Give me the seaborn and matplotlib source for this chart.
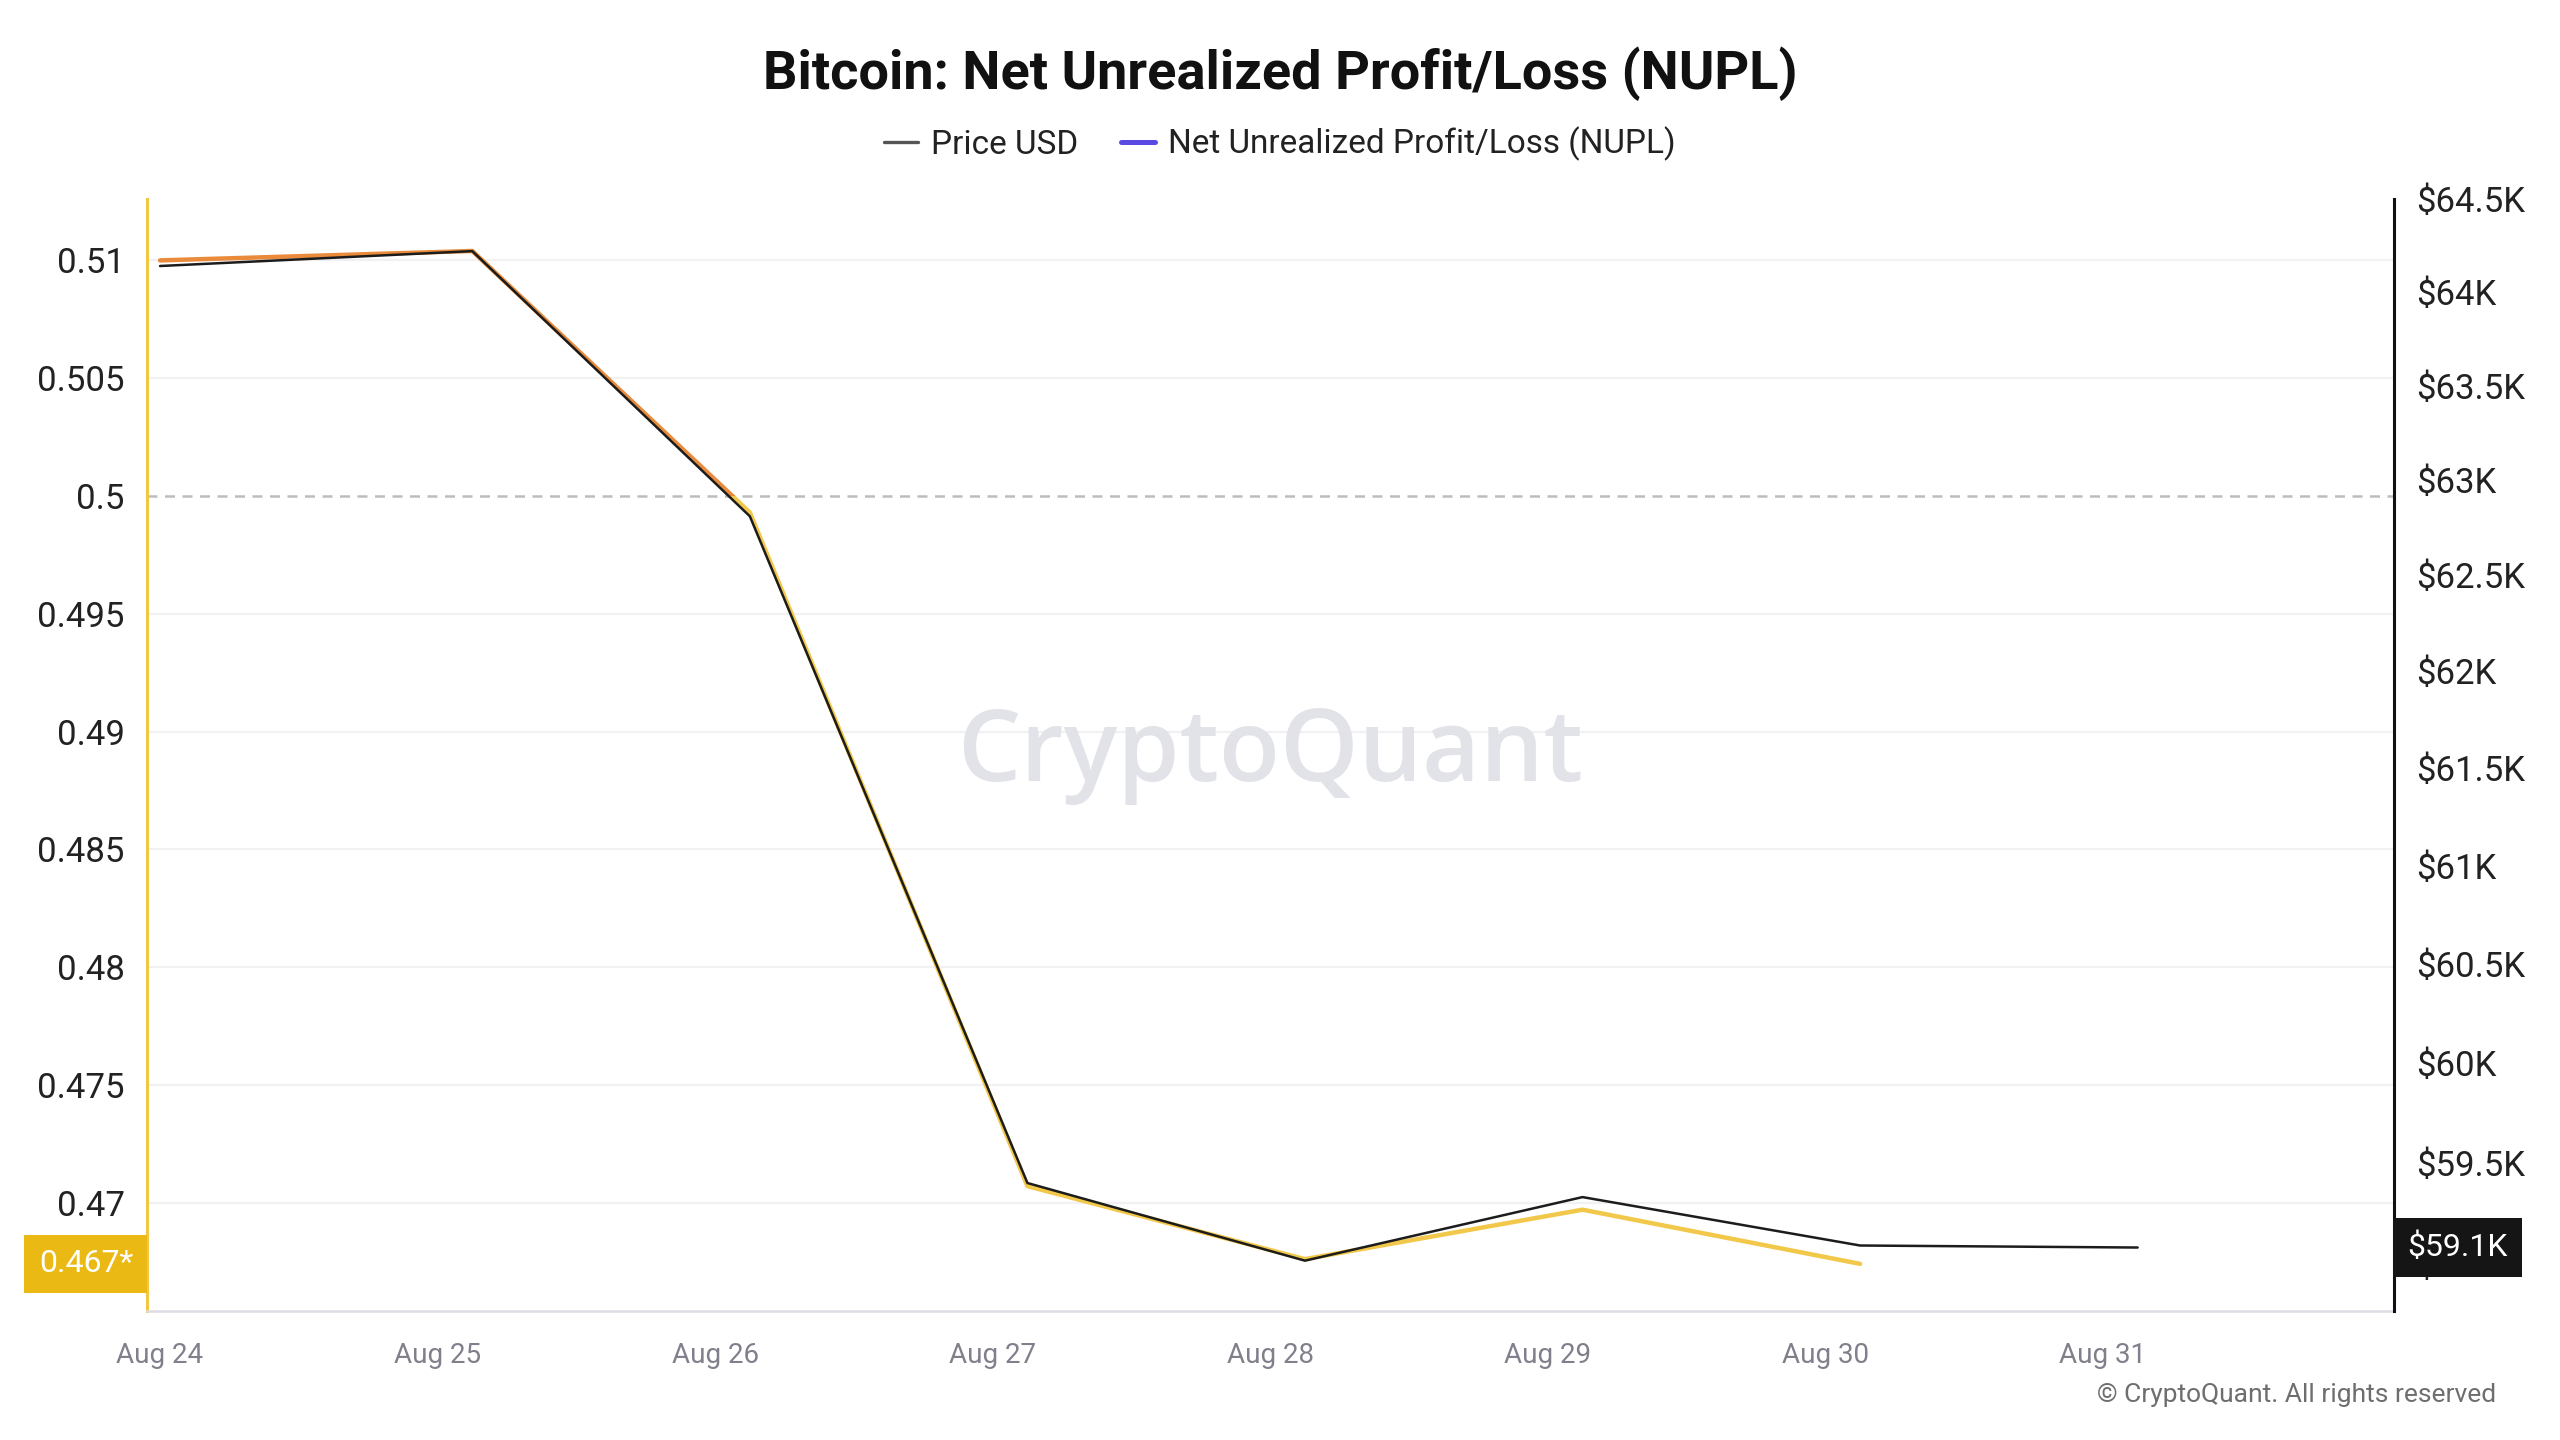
import matplotlib
matplotlib.use("Agg")
import matplotlib.pyplot as plt
import matplotlib.transforms as mtransforms
from matplotlib.patches import Rectangle
from matplotlib.lines import Line2D
from matplotlib.ticker import FixedLocator, FuncFormatter
import seaborn as sns
import pandas as pd

# values
dates = pd.to_datetime(["2024-08-24 00:00", "2024-08-25 03:00", "2024-08-26 03:00",
                        "2024-08-27 03:00", "2024-08-28 03:00", "2024-08-29 03:00",
                        "2024-08-30 03:00", "2024-08-31 03:00"])
price_usd = [64140, 64220, 62810, 59400, 59015, 59330, 59090, 59080]
nupl = [0.5100, 0.5104, 0.4993, 0.4707, 0.4676, 0.4697, 0.4674]
nupl_dates = dates[:len(nupl)]

day_ticks = pd.date_range("2024-08-24", "2024-08-31", freq="D")
nupl_ticks = [0.47, 0.475, 0.48, 0.485, 0.49, 0.495, 0.5, 0.505, 0.51]
price_ticks = [59000 + 500 * i for i in range(12)]

sns.set_theme(style="white")
plt.rcParams["font.family"] = ["Roboto", "DejaVu Sans"]

fig = plt.figure(figsize=(12.8, 7.2), dpi=200)
ax1 = fig.add_axes([0.0574, 0.0896, 0.8776, 0.7721])
ax2 = ax1.twinx()

# NUPL: orange above 0.5, yellow below
trans = mtransforms.blended_transform_factory(ax1.transAxes, ax1.transData)
sns.lineplot(x=nupl_dates, y=nupl, ax=ax1, color="#e98b3a", lw=1.6)
ax1.lines[-1].set_clip_path(Rectangle((0, 0.5), 1, 1, transform=trans))
sns.lineplot(x=nupl_dates, y=nupl, ax=ax1, color="#f2c84b", lw=1.6)
ax1.lines[-1].set_clip_path(Rectangle((0, -1), 1, 1.5, transform=trans))

ax1.axhline(0.5, color="#bdbdbd", lw=0.9, ls=(0, (4, 3)), zorder=1)
for v in nupl_ticks:
    if v != 0.5:
        ax1.axhline(v, color="#f1f1f4", lw=0.8, zorder=0)

sns.lineplot(x=dates, y=price_usd, ax=ax2, color="#1c1c1c", lw=0.9)
ax2.set_yscale("log")

ax1.set_xlim(pd.Timestamp("2024-08-23 22:52"), pd.Timestamp("2024-09-01 01:08"))
ax1.set_ylim(0.4654, 0.5126)
ax2.set_ylim(58767, 64500)

ax1.xaxis.set_major_locator(FixedLocator([matplotlib.dates.date2num(d) for d in day_ticks]))
ax1.set_xticklabels([d.strftime("%b %d") for d in day_ticks])
ax1.yaxis.set_major_locator(FixedLocator(nupl_ticks))
ax1.yaxis.set_major_formatter(FuncFormatter(lambda v, p: f"{round(v, 3):g}"))
ax2.yaxis.set_major_locator(FixedLocator(price_ticks))
ax2.yaxis.set_minor_locator(FixedLocator([]))
ax2.yaxis.set_major_formatter(FuncFormatter(lambda v, p: f"${v / 1000:g}K"))

ax1.tick_params(axis="x", length=5, width=0.8, color="#d8d8e0", pad=6,
                labelsize=10, labelcolor="#80808c")
ax1.tick_params(axis="y", length=0, pad=8, labelsize=12.5, labelcolor="#222222")
ax2.tick_params(axis="y", length=0, pad=8, labelsize=12.5, labelcolor="#222222")
ax1.set_xlabel("")
ax1.set_ylabel("")
ax2.set_ylabel("")

for s in ["top", "right"]:
    ax1.spines[s].set_visible(False)
for s in ["top", "left", "bottom"]:
    ax2.spines[s].set_visible(False)
ax1.spines["left"].set_color("#f3c743")
ax1.spines["left"].set_linewidth(1.1)
ax1.spines["bottom"].set_color("#dcdce4")
ax1.spines["bottom"].set_linewidth(0.9)
ax2.spines["right"].set_color("#111111")
ax2.spines["right"].set_linewidth(1.1)

# watermark
ax1.text(0.5, 0.5, "CryptoQuant", transform=ax1.transAxes, ha="center", va="center",
         fontsize=36, color="#e2e2e9", fontweight="semibold", zorder=0,
         family=["Open Sans", "DejaVu Sans"])

# last value boxes
ax2.annotate(f"{nupl[-1]:.3f}*", xy=(0, nupl[-1]),
             xycoords=mtransforms.blended_transform_factory(ax1.transAxes, ax1.transData),
             xytext=(-5, 0), textcoords="offset points", ha="right", va="center",
             fontsize=11.5, color="white", zorder=20, annotation_clip=False,
             bbox=dict(boxstyle="square,pad=0.45", fc="#ebb914", ec="none"))
ax2.annotate(f"${price_usd[-1] / 1000:.1f}K", xy=(1, price_usd[-1]),
             xycoords=mtransforms.blended_transform_factory(ax2.transAxes, ax2.transData),
             xytext=(5, 0), textcoords="offset points", ha="left", va="center",
             fontsize=11.5, color="white", zorder=20, annotation_clip=False,
             bbox=dict(boxstyle="square,pad=0.45", fc="#151515", ec="none"))

fig.text(0.5, 0.949, "Bitcoin: Net Unrealized Profit/Loss (NUPL)", ha="center", va="center",
         fontsize=19.5, fontweight="bold", color="#111111")
handles = [Line2D([], [], color="#555555", lw=1.2),
           Line2D([], [], color="#5a4ae3", lw=1.8)]
fig.legend(handles, ["Price USD", "Net Unrealized Profit/Loss (NUPL)"], loc="center",
           bbox_to_anchor=(0.5, 0.900), ncol=2, frameon=False, fontsize=12,
           handlelength=1.0, handletextpad=0.4, columnspacing=1.3, labelcolor="#222222")
fig.text(0.975, 0.031, "© CryptoQuant. All rights reserved", ha="right", va="center",
         fontsize=9.5, color="#6e6e6e")

fig.savefig("out.png", dpi=200, facecolor="white")
